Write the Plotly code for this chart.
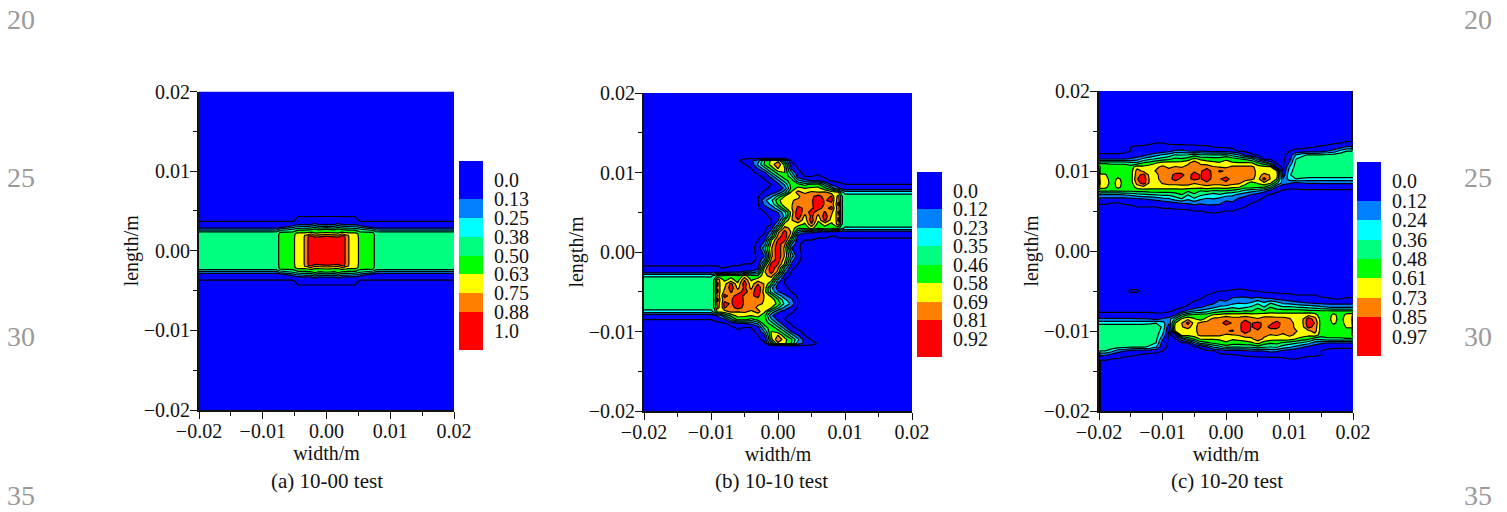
import plotly.graph_objects as go

W, H = 1507, 512
FONT = "Liberation Serif"
BAND_COLORS = ["#0000ff", "#0080ff", "#00ffff", "#00ff80", "#00ff00", "#ffff00", "#ff8000", "#ff0000"]

LABELS_A = ["0.0", "0.13", "0.25", "0.38", "0.50", "0.63", "0.75", "0.88", "1.0"]
LABELS_B = ["0.0", "0.12", "0.23", "0.35", "0.46", "0.58", "0.69", "0.81", "0.92"]
LABELS_C = ["0.0", "0.12", "0.24", "0.36", "0.48", "0.61", "0.73", "0.85", "0.97"]
STEP_A, STEP_B, STEP_C = 0.125, 0.1155, 0.1212
CAPTIONS = ["(a) 10-00 test", "(b) 10-10 test", "(c) 10-20 test"]
LINE_NUMBERS = ["20", "25", "30", "35"]

# Panel a: quarter of the field (mm and percent), mirrored in x and y
A_X = [0, 1.2, 1.8, 2.4, 2.8, 3.0, 3.4, 3.6, 4.5, 4.8, 5.2, 7.3, 7.7, 8.5, 20]
A_Y = [0, 1.5, 1.8, 2.1, 2.3, 2.5, 2.7, 2.9, 3.1, 3.3, 3.5, 3.7, 3.9, 4.1, 4.3, 4.5, 5, 20]
A_Z_BY_COL = [
    [95, 95, 88, 72, 62, 56, 50, 37, 25, 13, 8, 5, 4, 3, 0, -2, -2, -2],
    [95, 95, 86, 70, 60, 54, 47, 34, 22, 11, 7, 5, 4, 3, 0, -2, -2, -2],
    [95, 95, 84, 66, 60, 56, 52, 42, 30, 18, 10, 5, 4, 3, 0, -2, -2, -2],
    [95, 95, 92, 76, 64, 56, 48, 35, 24, 12, 8, 5, 4, 3, 0, -2, -2, -2],
    [95, 95, 92, 72, 62, 55, 47, 34, 22, 11, 7, 5, 4, 3, 0, -2, -2, -2],
    [81, 81, 81, 72, 62, 55, 47, 34, 22, 11, 7, 5, 4, 3, 0, -2, -2, -2],
    [81, 81, 80, 70, 60, 54, 46, 34, 22, 11, 7, 5, 4, 3, 0, -2, -2, -2],
    [70, 70, 70, 68, 60, 54, 46, 33, 22, 11, 7, 5, 4, 3, 0, -2, -2, -2],
    [70, 70, 70, 68, 60, 54, 45, 32, 20, 10, 6, 4, 3, 2, 0, -2, -2, -2],
    [70, 70, 68, 66, 58, 50, 42, 32, 20, 10, 5, 2, 1, -1, -2, -2, -2, -2],
    [56, 56, 56, 55, 52, 47, 38, 26, 14, 6, 2, 0, -2, -2, -2, -2, -2, -2],
    [56, 56, 56, 55, 50, 40, 28, 12, 6, 3, 1, 0, -2, -2, -2, -2, -2, -2],
    [44, 44, 44, 44, 43, 33, 20, 10, 6, 3, 1, 0, -2, -2, -2, -2, -2, -2],
    [44, 44, 44, 44, 42, 31, 19, 9, 6, 3, 1, 0, -2, -2, -2, -2, -2, -2],
    [44, 44, 44, 44, 42, 31, 19, 9, 6, 3, 1, 0, -2, -2, -2, -2, -2, -2],
]

# Panel b: upper half (mm and percent), the lower half is its 180 degree turn
B_X = [-20, -11, -10, -9.5, -9, -8.5, -8, -7, -6, -5, -4, -3, -2, -1, 0, 1, 2, 3, 4, 5, 6, 7, 8, 8.5, 9, 9.5, 10, 11, 20]
B_Y = [0.5, 1, 1.5, 2, 2.5, 3, 3.5, 4, 4.5, 5, 5.5, 6, 6.5, 7, 7.5, 8, 8.5, 9, 9.5, 10, 10.5, 11, 11.5, 11.8, 20]
B_LEFT = [-2, -2, -2, -2, -2, -2, -2, -2]
B_ROWS = [
    [-2, -2, -2, 2, 32, 68, 90, 66, 12, 1, -2, -2, -2, -2, -2, -2, -2, -2, -2],
    [-2, -2, -2, 1, 18, 62, 88, 72, 24, 1, -2, -2, -2, -2, -2, -2, -2, -2, -2],
    [-2, -2, -2, 0, 10, 56, 82, 84, 44, 2, 0, 0, -1, -1, -1, -1, -2, -2, -2],
    [-2, -2, -2, -2, 2, 32, 72, 90, 60, 6, 2, 2, 1, 1, 0, 1, 2, 2, 2],
    [-2, -2, -2, -2, -1, 18, 66, 86, 68, 24, 14, 14, 10, 8, 6, 6, 5, 5, 5],
    [-2, -2, -2, -2, -2, 6, 42, 74, 66, 48, 50, 62, 48, 54, 50, 50, 33, 33, 33],
    [-2, -2, -2, -2, -2, 0, 22, 62, 68, 64, 56, 80, 52, 62, 54, 76, 38, 40, 40],
    [-2, -2, -2, -2, -2, 0, 10, 46, 68, 80, 62, 88, 60, 84, 64, 84, 40, 40, 40],
    [-2, -2, -2, -2, -1, 1, 6, 26, 66, 90, 66, 84, 66, 88, 68, 80, 40, 40, 40],
    [-2, -2, -2, -2, 0, 6, 12, 32, 62, 90, 74, 86, 74, 82, 72, 84, 40, 40, 40],
    [-2, -2, -2, -2, 6, 14, 30, 54, 68, 84, 79, 79, 86, 76, 86, 74, 40, 40, 40],
    [-2, -2, -2, -1, 14, 26, 48, 66, 68, 78, 79, 78, 92, 79, 76, 86, 40, 40, 40],
    [-2, -2, -2, -1, 20, 32, 54, 66, 68, 72, 79, 79, 90, 79, 86, 76, 40, 40, 40],
    [-2, -2, -2, -1, 8, 20, 38, 58, 66, 66, 78, 78, 86, 76, 82, 74, 40, 40, 40],
    [-2, -2, -2, -2, 1, 6, 14, 32, 60, 74, 66, 72, 70, 72, 64, 60, 30, 30, 30],
    [-2, -2, -2, -2, -1, 1, 3, 14, 50, 62, 58, 60, 62, 50, 35, 14, 4, 4, 4],
    [-2, -2, -2, -2, -2, 0, 8, 25, 52, 50, 42, 50, 50, 30, 8, 3, 0, 0, 0],
    [-2, -2, -2, -2, -1, 4, 20, 42, 52, 25, 14, 10, 10, 2, -1, -2, -2, -2, -2],
    [-2, -2, -2, -2, 2, 15, 38, 54, 40, 6, 0, 0, 1, -1, -2, -2, -2, -2, -2],
    [-2, -2, -2, 2, 10, 35, 52, 58, 25, 2, -2, -2, -1, -2, -2, -2, -2, -2, -2],
    [-2, -2, 0, 12, 30, 50, 70, 58, 10, 0, -2, -2, -2, -2, -2, -2, -2, -2, -2],
    [-2, -1, 5, 25, 48, 62, 80, 54, 3, -2, -2, -2, -2, -2, -2, -2, -2, -2, -2],
    [-2, 6, 10, 16, 46, 60, 66, 34, -2, -2, -2, -2, -2, -2, -2, -2, -2, -2, -2],
    [-2, -2, -2, -2, -2, -2, -2, -2, -2, -2, -2, -2, -2, -2, -2, -2, -2, -2, -2],
    [-2, -2, -2, -2, -2, -2, -2, -2, -2, -2, -2, -2, -2, -2, -2, -2, -2, -2, -2],
]
# narrow stripes at the band root, one value per row of B_Y
B_COL_8_5 = [-2, -2, -1, 0, 6, 46, 64, 62, 64, 62, 64, 62, 62, 62, 62, 22, 5, -2, -2, -2, -2, -2, -2, -2, -2]
B_COL_9_5 = [-2, -2, -1, 1, 5, 38, 48, 48, 48, 48, 48, 48, 48, 48, 40, 8, 1, -2, -2, -2, -2, -2, -2, -2, -2]

# Panel c: upper half (mm and percent), the lower half is its 180 degree turn
C_X = [-20, -19.8] + list(range(-19, 20)) + [19.8, 20]
C_Y = [3, 4.5, 5, 5.5, 6, 6.5, 7, 7.5, 8, 8.5, 9, 9.5, 10, 10.5, 11, 11.5, 12, 12.5, 13, 13.5, 14, 14.5, 20]
C_ROWS = [
    [-2] * 41,
    [-2] * 41,
    [-2] * 14 + [-1, 0, 0, 1, 2, 1, 0, 0, -1] + [-2] * 18,
    [-2] * 5 + [-1, 0, 0, 0, 0, 1, 1, 2, 3, 2, 6, 6, 8, 10, 8, 4, 3, 1, 0, -1] + [-2] * 16,
    [1, 1, 0, 0, 1, 1, 2, 3, 3, 4, 5, 8, 10, 14, 14, 18, 14, 16, 14, 14, 8, 10, 4, 2, 0, -1] + [-2] * 15,
    [10, 8, 8, 8, 8, 9, 10, 12, 14, 16, 20, 22, 30, 36, 26, 34, 26, 22, 24, 20, 16, 18, 10, 6, 3, 1, -1] + [-2] * 14,
    [24, 22, 22, 22, 24, 26, 30, 32, 34, 36, 38, 38, 42, 48, 36, 46, 38, 34, 30, 34, 28, 26, 20, 16, 10, 6, 1, -1] + [-2] * 13,
    [54, 50, 50, 50, 50, 50, 52, 52, 54, 54, 54, 54, 54, 54, 50, 54, 48, 50, 46, 48, 46, 44, 40, 32, 28, 24, 16, 6, 1, -1, -2] + [-1] * 10,
    [82, 66, 50, 66, 52, 52, 66, 70, 66, 66, 66, 66, 66, 68, 68, 64, 66, 68, 66, 66, 68, 64, 62, 54, 54, 52, 50, 36, 12, 4, 2, 1] + [2] * 9,
    [94, 72, 52, 68, 54, 54, 78, 92, 70, 66, 74, 78, 78, 78, 78, 74, 78, 82, 78, 78, 82, 78, 76, 66, 54, 62, 70, 62, 40, 18, 14, 8, 12, 13, 13, 14, 14, 14, 14, 14, 14],
    [90, 68, 52, 64, 54, 54, 84, 94, 70, 68, 80, 80, 90, 82, 82, 88, 84, 92, 80, 84, 90, 80, 78, 78, 76, 68, 90, 72, 60, 14, 30, 36, 34, 32, 32, 32, 32, 32, 32, 32, 32],
    [86, 62, 52, 52, 54, 54, 80, 90, 68, 68, 82, 80, 88, 88, 80, 90, 84, 94, 80, 82, 80, 80, 80, 82, 80, 68, 76, 72, 66, 4, 34, 46] + [44] * 9,
    [78, 56, 52, 52, 54, 54, 78, 70, 68, 74, 80, 78, 80, 80, 82, 83, 83, 92, 80, 86, 84, 80, 80, 78, 80, 68, 68, 70, 62, 0, 30, 44] + [44] * 9,
    [72, 60, 54, 54, 54, 54, 68, 64, 67, 70, 76, 70, 74, 72, 76, 84, 78, 80, 74, 72, 70, 76, 76, 76, 76, 68, 64, 66, 5, -2, 24, 42] + [44] * 9,
    [40, 46, 46, 46, 46, 40, 40, 50, 54, 60, 66, 66, 64, 66, 70, 80, 70, 66, 64, 62, 62, 62, 62, 62, 62, 50, 40, 20, -1, -2, 14, 40] + [44] * 9,
    [12, 12, 12, 12, 12, 14, 18, 28, 34, 38, 42, 46, 52, 50, 54, 64, 58, 56, 54, 54, 60, 56, 50, 46, 40, 20, -1, -2, -2, -2, 6, 36, 40, 42, 44, 44, 44, 44, 44, 44, 44],
    [1, 1, 1, 1, 1, 3, 5, 8, 14, 20, 26, 30, 38, 36, 38, 44, 38, 38, 38, 38, 40, 32, 25, 12, 1, -1, -2, -2, -2, -2, 4, 25, 34, 38, 38, 38, 40, 42, 44, 44, 44],
    [-2, -2, -2, -2, -1, 0, 1, 2, 3, 4, 5, 8, 14, 16, 12, 10, 12, 10, 8, 8, 8, 4, -1, -2, -2, -2, -2, -2, -2, -2, 0, 2, 3, 4, 6, 8, 12, 16, 28, 36, 42],
    [-2, -2, -2, -2, -1, 0, 1, 1, 2, 2, 2, 2, 3, 3, 2, 2, 1, 1, 0, -1] + [-2] * 13 + [-1, 0, 1, 2, 5, 8, 14, 36],
    [-2] * 8 + [-1, 0, 0, -1] + [-2] * 24 + [-2, -1, 0, 1, 2],
    [-2] * 40 + [45],
    [-2] * 40 + [45],
    [-2] * 40 + [45],
]
# small closed arc left of the lower band: (x mm, y mm, percent)
C_ARC = [(-15, -5, 1), (-14, -5, 1)]


def turned(rows):
    return [list(reversed(r)) for r in reversed(rows)]


def field_a():
    cols_by_row = [[col[i] for col in A_Z_BY_COL] for i in range(len(A_Y))]
    rows = [list(reversed(r[1:])) + r for r in cols_by_row]
    rows = list(reversed(rows[1:])) + rows
    xs = [-v for v in reversed(A_X[1:])] + A_X
    ys = [-v for v in reversed(A_Y[1:])] + A_Y
    return xs, ys, rows


def field_b():
    upper = []
    for k, r in enumerate(B_ROWS):
        upper.append(B_LEFT + r[:15] + [B_COL_8_5[k]] + r[15:16] + [B_COL_9_5[k]] + r[16:])
    return B_X, [-v for v in reversed(B_Y)] + B_Y, turned(upper) + upper


def field_c():
    upper = []
    for r in C_ROWS:
        upper.append(r[:1] + r[1:2] + r[1:40] + r[39:40] + r[40:])
    rows = turned(upper) + upper
    ys = [-v for v in reversed(C_Y)] + C_Y
    for ax, ay, val in C_ARC:
        rows[ys.index(ay)][C_X.index(ax)] = val
    return C_X, ys, rows


def mm(values):
    return [v / 1000 for v in values]


def pct(rows):
    return [[v / 100 for v in r] for r in rows]


PANELS = [
    dict(field=field_a, step=STEP_A, labels=LABELS_A, plot=(199, 454, 91.5, 410), bar=(459, 483, 161, 350), cap=327),
    dict(field=field_b, step=STEP_B, labels=LABELS_B, plot=(644, 912, 93, 411), bar=(917, 942, 172, 357), cap=771),
    dict(field=field_c, step=STEP_C, labels=LABELS_C, plot=(1099, 1353, 91, 411), bar=(1357, 1381, 162, 356), cap=1227),
]

contour_scale = [[i / 9, c] for i, c in enumerate([BAND_COLORS[0]] + BAND_COLORS + [BAND_COLORS[-1]])]
band_scale = [[i / 7, c] for i, c in enumerate(BAND_COLORS)]
band_index = list(range(8))

fig = go.Figure()
layout = {}
font = dict(family=FONT, size=20, color="#111111")
TICKS = [-0.02, -0.01, 0.0, 0.01, 0.02]

for n, p in enumerate(PANELS):
    i = 2 * n + 1
    xs, ys, rows = p["field"]()
    x0, x1, y0, y1 = p["plot"]
    step = p["step"]
    fig.add_trace(go.Contour(
        x=mm(xs), y=mm(ys), z=pct(rows), xaxis=f"x{i}", yaxis=f"y{i}",
        colorscale=contour_scale, showscale=False, autocontour=False,
        contours=dict(start=0, end=step * 8, size=step, coloring="fill", showlines=True),
        line=dict(color="black", width=1.2, smoothing=0), hoverinfo="skip",
    ))
    common = dict(range=[-0.02, 0.02], tickvals=TICKS, tickformat=".2f", ticks="outside", ticklen=7, tickwidth=1.3,
                  tickcolor="#111", showline=True, linecolor="#111", linewidth=2, showgrid=False, zeroline=False,
                  automargin=False, tickfont=font,
                  minor=dict(dtick=0.005, tick0=0, ticks="outside", ticklen=4, tickwidth=1, tickcolor="#111"))
    layout[f"xaxis{i}"] = dict(domain=[x0 / W, x1 / W], anchor=f"y{i}", ticklabelstandoff=-5,
                               title=dict(text="width/m", font=font, standoff=0), **common)
    layout[f"yaxis{i}"] = dict(domain=[1 - y1 / H, 1 - y0 / H], anchor=f"x{i}", ticklabelstandoff=-4,
                               title=dict(text="length/m", font=font, standoff=0), **common)

    j = i + 1
    bx0, bx1, by0, by1 = p["bar"]
    edges = [-step] + [step * k for k in range(1, 8)] + [step * 9]
    fig.add_trace(go.Heatmap(
        x=[0, 1], y=edges, z=[[b] for b in band_index], xaxis=f"x{j}", yaxis=f"y{j}",
        colorscale=band_scale, zmin=0, zmax=7, showscale=False, hoverinfo="skip",
    ))
    layout[f"xaxis{j}"] = dict(domain=[bx0 / W, bx1 / W], anchor=f"y{j}", range=[0, 1], visible=False, automargin=False)
    layout[f"yaxis{j}"] = dict(domain=[1 - by1 / H, 1 - by0 / H], anchor=f"x{j}", side="right",
                               range=[step * 9, -step], tickvals=[step * k for k in range(9)], ticktext=p["labels"],
                               ticks="", showline=False, showgrid=False, zeroline=False, tickfont=font,
                               ticklabelstandoff=10, automargin=False)

annotations = []
for n, p in enumerate(PANELS):
    annotations.append(dict(text=CAPTIONS[n], x=p["cap"] / W, y=1 - 481 / H, xref="paper", yref="paper",
                            xanchor="center", yanchor="middle", showarrow=False,
                            font=dict(family=FONT, size=21, color="#111111")))
for k, label in enumerate(LINE_NUMBERS):
    yp = 1 - (19 + k * 158.7) / H
    for xp in (21, 1478):
        annotations.append(dict(text=label, x=xp / W, y=yp, xref="paper", yref="paper", xanchor="center",
                                yanchor="middle", showarrow=False,
                                font=dict(family=FONT, size=28, color="#9a9a9a")))

fig.update_layout(width=W, height=H, margin=dict(l=0, r=0, t=0, b=0, autoexpand=False), paper_bgcolor="white",
                  plot_bgcolor="white", showlegend=False, annotations=annotations, font=dict(family=FONT), **layout)
fig.write_html("out.html", post_script="document.body.style.margin='0';", config=dict(displayModeBar=False))
